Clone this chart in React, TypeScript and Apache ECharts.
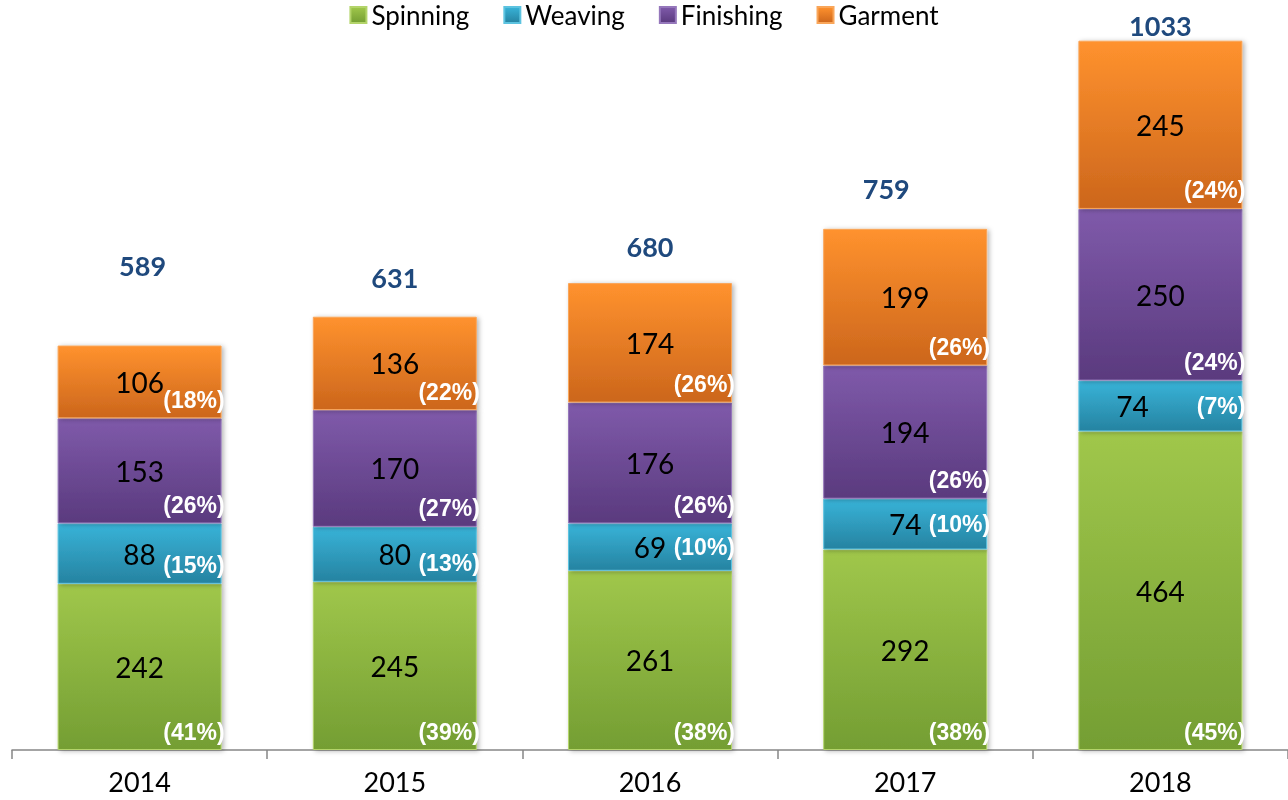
import React, { useEffect, useRef } from "react";
import * as echarts from "echarts";

const years = ["2014", "2015", "2016", "2017", "2018"];
const spinning = [242, 245, 261, 292, 464];
const weaving = [88, 80, 69, 74, 74];
const finishing = [153, 170, 176, 194, 250];
const garment = [106, 136, 174, 199, 245];

const seriesNames = ["Spinning", "Weaving", "Finishing", "Garment"];
const seriesValues = [spinning, weaving, finishing, garment];

const palette = [
  { top: "#A0C74B", bottom: "#749E33", border: "#B3D46A" },
  { top: "#38B3D8", bottom: "#2683A1", border: "#5CC3E0" },
  { top: "#7F5AAA", bottom: "#5A3A7E", border: "#9577BB" },
  { top: "#FF922E", bottom: "#CC661C", border: "#F9A65A" },
];

// style offsets for labels (not data)
const totalLabelOffsets = [
  [3, -63],
  [0, -22],
  [0, -19],
  [-19, -23],
  [0, 2],
];

export default function App() {
  const ref = useRef<HTMLDivElement>(null);

  useEffect(() => {
    if (!ref.current) return;
    const chart = echarts.init(ref.current, undefined, { renderer: "svg" });
    const totals = years.map((_, i) =>
      seriesValues.reduce((s, arr) => s + arr[i], 0)
    );
    const BAR_W = 164;
    const valueFont = "Lato, 'Open Sans', sans-serif";

    const mainSeries = seriesNames.map((name, k) => ({
      name,
      type: "bar",
      stack: "main",
      barWidth: BAR_W,
      barGap: "-100%",
      itemStyle: {
        color: new echarts.graphic.LinearGradient(0, 0, 0, 1, [
          { offset: 0, color: palette[k].top },
          { offset: 1, color: palette[k].bottom },
        ]),
        borderColor: palette[k].border,
        borderWidth: 1,
        shadowBlur: 5,
        shadowColor: "rgba(0,0,0,0.3)",
        shadowOffsetX: 2,
        shadowOffsetY: 1,
      },
      label: {
        show: true,
        position: "inside",
        color: "#000",
        fontFamily: valueFont,
        fontSize: 28,
      },
      data: seriesValues[k].map((v, i) => {
        const narrow = v / totals[i] < 0.11;
        return {
          value: v,
          label: narrow && i === 4 ? { offset: [-28, 0] } : undefined,
        };
      }),
    }));

    const pctSeries = seriesNames.map((name, k) => ({
      name: name + " %",
      type: "bar",
      stack: "pct",
      barWidth: BAR_W,
      barGap: "-100%",
      silent: true,
      itemStyle: { color: "rgba(0,0,0,0)" },
      label: {
        show: true,
        color: "#fff",
        fontFamily: "'Liberation Sans', Arial, sans-serif",
        fontWeight: "bold",
        fontSize: 23,
        distance: 0,
      },
      data: seriesValues[k].map((v, i) => {
        const pct = Math.round((v / totals[i]) * 100);
        const narrow = v / totals[i] < 0.11;
        return {
          value: v,
          label: {
            position: narrow ? "insideRight" : "insideBottomRight",
            offset: narrow ? [3, 0] : [3, -7],
            formatter: "(" + pct + "%)",
          },
        };
      }),
    }));

    const totalSeries = {
      name: "Total",
      type: "bar",
      stack: "tot",
      barWidth: BAR_W,
      barGap: "-100%",
      silent: true,
      itemStyle: { color: "rgba(0,0,0,0)" },
      label: {
        show: true,
        position: "top",
        distance: 4,
        color: "#1F497D",
        fontFamily: valueFont,
        fontWeight: "bold",
        fontSize: 27,
      },
      data: totals.map((t, i) => ({
        value: t,
        label: { offset: totalLabelOffsets[i] },
      })),
    };

    chart.setOption({
      animation: false,
      legend: {
        data: seriesNames,
        top: -3,
        left: "center",
        icon: "rect",
        itemWidth: 16,
        itemHeight: 16,
        itemGap: 34,
        textStyle: {
          fontFamily: valueFont,
          fontSize: 26,
          color: "#000",
        },
      },
      grid: { left: 12, right: 0, top: 29, bottom: 50 },
      xAxis: {
        type: "category",
        data: years,
        axisLine: { show: true, lineStyle: { color: "#868686", width: 1.5 } },
        axisTick: {
          show: true,
          alignWithLabel: false,
          interval: 0,
          length: 9,
          lineStyle: { color: "#868686", width: 1.5 },
        },
        axisLabel: {
          color: "#000",
          fontFamily: valueFont,
          fontSize: 27,
          margin: 18,
        },
      },
      yAxis: {
        type: "value",
        min: 0,
        max: 1050,
        show: false,
        splitLine: { show: false },
      },
      series: [...mainSeries, ...pctSeries, totalSeries],
    });
    return () => chart.dispose();
  }, []);

  return (
    <div
      ref={ref}
      style={{ position: "fixed", left: 0, top: 0, width: 1288, height: 800 }}
    />
  );
}
